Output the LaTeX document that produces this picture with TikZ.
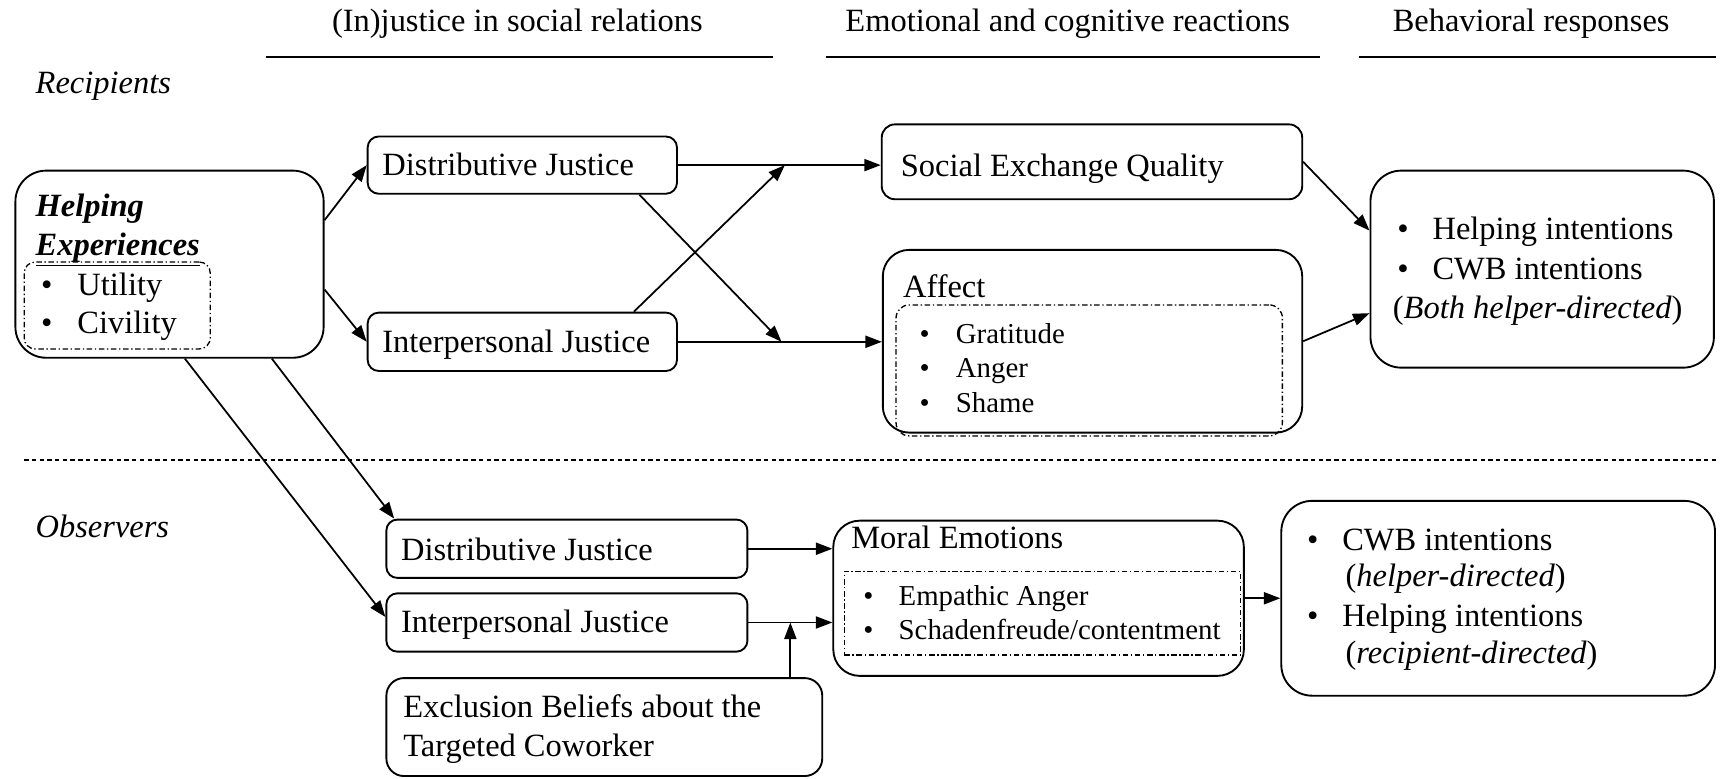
\documentclass[tikz,border=0pt]{standalone}
\usepackage{fontspec}
\setmainfont{Liberation Serif}
\usetikzlibrary{arrows.meta,fit,calc}
\begin{document}
\begin{tikzpicture}[x=0.5pt,y=-0.5pt,
  box/.style={draw, line width=0.85pt, inner sep=0pt, rounded corners=#1},
  box/.default=5pt,
  inbox/.style={draw, line width=0.6pt, inner sep=0pt, dash pattern=on 2.5pt off 1.2pt on 0.6pt off 1.2pt, rounded corners=#1},
  inbox/.default=5pt,
  txt/.style={inner sep=0pt, anchor=base west, font=\fontsize{14.75}{17.5}\selectfont},
  stxt/.style={inner sep=0pt, anchor=base west, font=\fontsize{13.1}{16}\selectfont},
  arr/.style={line width=0.8pt, -{Triangle[length=7.5pt,width=5.5pt]}},
  hline/.style={line width=0.8pt},
  sepline/.style={line width=0.6pt, dash pattern=on 2pt off 1.5pt},
]
\useasboundingbox (0,0) rectangle (1568,707);

% headers
\node[txt, anchor=base] (h1) at (470,29) {(In)justice in social relations};
\node[txt, anchor=base] (h2) at (970,29) {Emotional and cognitive reactions};
\node[txt, anchor=base] (h3) at (1391,29) {Behavioral responses};
\draw[hline] (242,52) -- (702,52);
\draw[hline] (750,52) -- (1199,52);
\draw[hline] (1235,52) -- (1559,52);

\node[txt] (rec) at (32,85) {\textit{Recipients}};
\node[txt] (obs) at (32,488) {\textit{Observers}};
\draw[sepline] (22,418) -- (1559,418);

% Helping experiences
\node[box=14pt, fit={(14,155) (294,325)}] (he) {};
\node[inbox=5pt, fit={(22,238) (191,317)}] (hein) {};
\node[txt] (het1) at (32,197) {\textbf{\textit{Helping}}};
\node[txt] (het2) at (32,232) {\underline{\textbf{\textit{Experiences}}}};
\node[txt] (heb1) at (37,268) {•};
\node[txt] (hei1) at (70,268) {Utility};
\node[txt] (heb2) at (37,303) {•};
\node[txt] (hei2) at (70,303) {Civility};

% recipients justice
\node[box, fit={(334,124) (615,176)}] (dj1) {};
\node[txt] (dj1t) at (347,159) {Distributive Justice};
\node[box, fit={(334,284) (615,337)}] (ij1) {};
\node[txt] (ij1t) at (347,320) {Interpersonal Justice};

% SEQ
\node[box=6pt, fit={(801,113) (1183,181)}] (seq) {};
\node[txt] (seqt) at (818,160) {Social Exchange Quality};

% Affect
\node[box=12pt, fit={(802,227) (1183,393)}] (affect) {};
\node[txt] (afft) at (820,270) {Affect};
\node[inbox=6pt, fit={(814,277) (1165,396)}] (affin) {};
\node[stxt] (afb1) at (835,312) {•};
\node[stxt] (afi1) at (868,312) {Gratitude};
\node[stxt] (afb2) at (835,343) {•};
\node[stxt] (afi2) at (868,343) {Anger};
\node[stxt] (afb3) at (835,375) {•};
\node[stxt] (afi3) at (868,375) {Shame};

% Outcomes recipients
\node[box=14pt, fit={(1245,155) (1557,334)}] (outr) {};
\node[txt] (orb1) at (1269,218) {•};
\node[txt] (ori1) at (1301,218) {Helping intentions};
\node[txt] (orb2) at (1269,254) {•};
\node[txt] (ori2) at (1301,254) {CWB intentions};
\node[txt] (ori3) at (1265,289) {(\textit{Both helper-directed})};

% observers justice
\node[box, fit={(351,472) (679,525)}] (dj2) {};
\node[txt] (dj2t) at (364,509) {Distributive Justice};
\node[box, fit={(351,539) (679,592)}] (ij2) {};
\node[txt] (ij2t) at (364,575) {Interpersonal Justice};
\node[box=8pt, fit={(351,616) (747,705)}] (excl) {};
\node[txt] (exclt1) at (366,652) {Exclusion Beliefs about the};
\node[txt] (exclt2) at (366,687) {Targeted Coworker};

% Moral emotions
\node[box=12pt, fit={(757,473) (1130,614)}] (me) {};
\node[txt] (met) at (773,498) {Moral Emotions};
\node[inbox=0pt, fit={(767,519) (1127,595)}] (mein) {};
\node[stxt] (meb1) at (784,550) {•};
\node[stxt] (mei1) at (816,550) {Empathic Anger};
\node[stxt] (meb2) at (784,581) {•};
\node[stxt] (mei2) at (816,581) {Schadenfreude/contentment};

% Outcomes observers
\node[box=14pt, fit={(1164,455) (1558,632)}] (outo) {};
\node[txt] (oob1) at (1187,500) {•};
\node[txt] (ooi1) at (1219,500) {CWB intentions};
\node[txt] (ooi2) at (1222,533) {(\textit{helper-directed})};
\node[txt] (oob2) at (1187,569) {•};
\node[txt] (ooi3) at (1219,569) {Helping intentions};
\node[txt] (ooi4) at (1222,603) {(\textit{recipient-directed})};

% helper coordinates on lines
\path (dj1.east) -- (dj1.east -| seq.west) coordinate[pos=0.527] (c1);
\path (ij1.east) -- (ij1.east -| affect.west) coordinate[pos=0.508] (c2);
\path (ij2.east) -- (ij2.east -| me.west) coordinate[pos=0.5] (c3);

% arrows recipients
\draw[arr] ([yshift=20pt]he.east) -- (dj1.west);
\draw[arr] ([yshift=-11.5pt]he.east) -- (ij1.west);
\draw[arr] (dj1.east) -- (dj1.east -| seq.west);
\draw[arr] (ij1.east) -- (ij1.east -| affect.west);
\draw[arr] ([xshift=-20pt]ij1.north east) -- (c1);
\draw[arr] ([xshift=-17.5pt]dj1.south east) -- (c2);
\draw[arr] (seq.east) -- ([yshift=17.5pt]outr.west);
\draw[arr] (affect.east) -- ([yshift=-20pt]outr.west);

% arrows observers
\draw[arr] ([xshift=46.5pt]he.south) -- ([xshift=4pt]dj2.north west);
\draw[arr] ([xshift=7pt]he.south) -- ([yshift=2.5pt]ij2.west);
\draw[arr] (dj2.east) -- (dj2.east -| me.west);
\draw[arr] (ij2.east) -- (ij2.east -| me.west);
\draw[arr] (c3 |- excl.north) -- (c3);
\draw[arr] (me.east) -- (outo.west);
\end{tikzpicture}
\end{document}
